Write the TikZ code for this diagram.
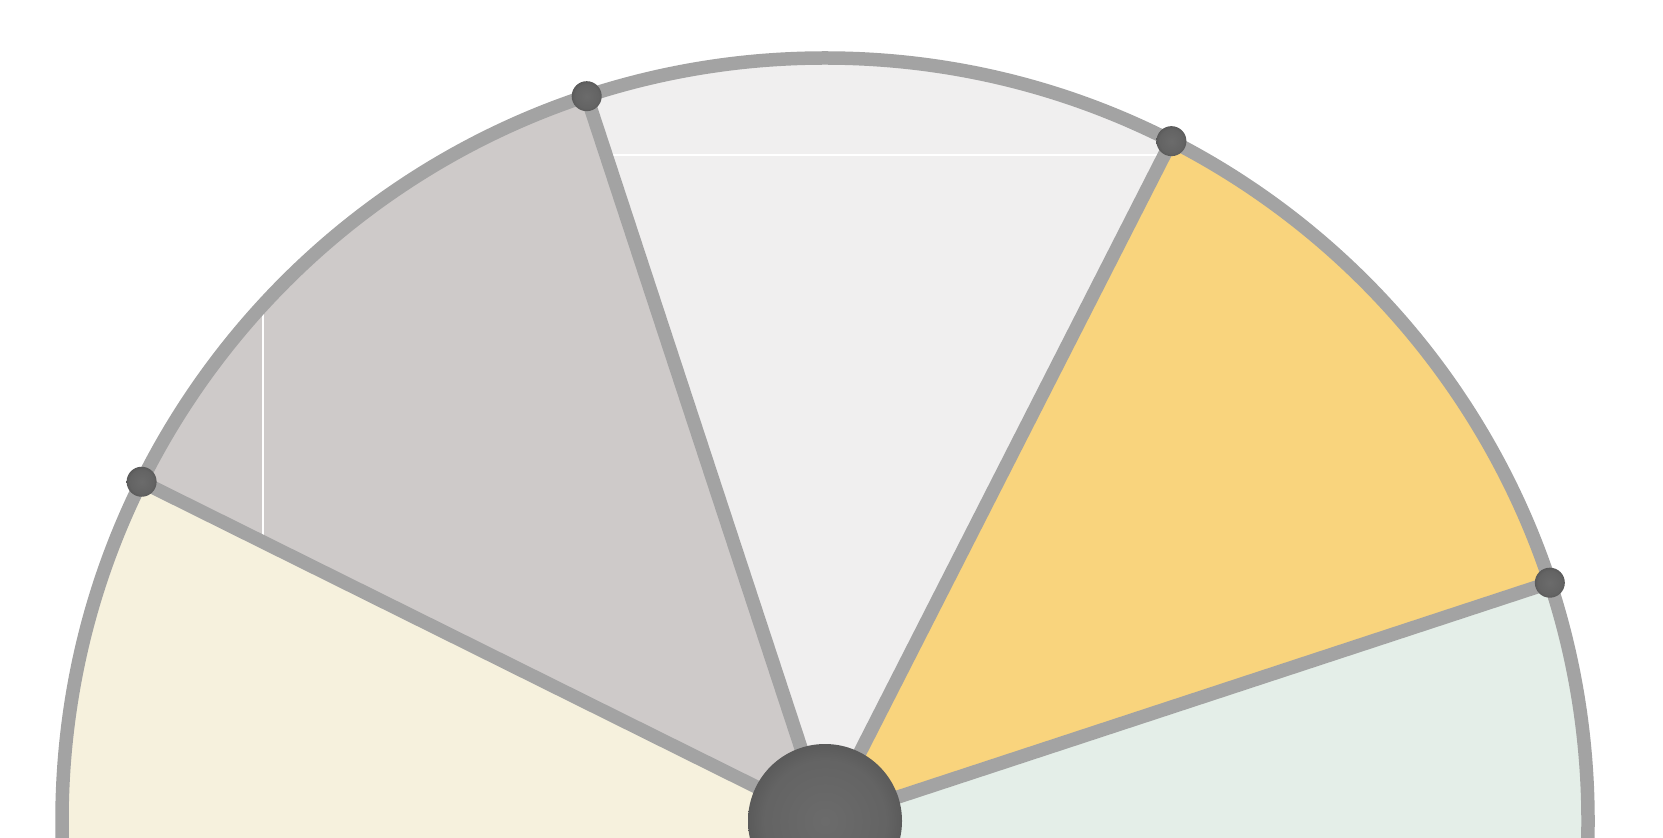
\documentclass[tikz,border=0pt]{standalone}
\definecolor{rimgray}{HTML}{A3A3A3}
\definecolor{creamfill}{HTML}{F6F1DD}
\definecolor{stonefill}{HTML}{CECAC9}
\definecolor{mistfill}{HTML}{F0EFEF}
\definecolor{honeyfill}{HTML}{F9D47D}
\definecolor{sagefill}{HTML}{E4EEE8}
\pgfdeclareradialshading{knobshade}{\pgfpoint{0bp}{0bp}}{%
    color(0bp)=(black!58); color(20bp)=(black!61);
    color(30bp)=(black!68); color(35bp)=(black!77); color(50bp)=(black!77)}
\tikzset{
    rim/.style={rimgray, line width=0.135cm},
    seam/.style={white, line width=0.6pt},
    knob/.style={shading=knobshade}
}
\begin{document}
\begin{tikzpicture}
    \useasboundingbox (0,0) rectangle (16.63,8.37);
    \clip (0,0) rectangle (16.63,8.37);
    \begin{scope}[shift={(8.25,0.16)}]
        \coordinate (hub) at (0,0);
        \coordinate (a) at (18.2:7.63);
        \coordinate (b) at (63:7.63);
        \coordinate (c) at (108.2:7.63);
        \coordinate (d) at (153.6:7.63);

        % Sectors
        \fill[sagefill] (hub) -- (-40:7.63) arc (-40:18.2:7.63) -- cycle;
        \fill[honeyfill] (hub) -- (a) arc (18.2:63:7.63) -- cycle;
        \fill[mistfill] (hub) -- (b) arc (63:108.2:7.63) -- cycle;
        \fill[stonefill] (hub) -- (c) arc (108.2:153.6:7.63) -- cycle;
        \fill[creamfill] (hub) -- (d) arc (153.6:220:7.63) -- cycle;

        % Texture seams
        \begin{scope}
            \clip (hub) -- (b) arc (63:108.2:7.63) -- cycle;
            \draw[seam] (-4,6.66) -- (4,6.66);
        \end{scope}
        \begin{scope}
            \clip (hub) -- (c) arc (108.2:153.6:7.63) -- cycle;
            \draw[seam] (-5.62,1) -- (-5.62,8);
        \end{scope}

        % Rim and spokes
        \draw[rim] (hub) -- (a);
        \draw[rim] (hub) -- (b);
        \draw[rim] (hub) -- (c);
        \draw[rim] (hub) -- (d);
        \draw[rim] (hub) circle (7.63);

        % Pins
        \shade[knob] (a) circle (0.15);
        \shade[knob] (b) circle (0.15);
        \shade[knob] (c) circle (0.15);
        \shade[knob] (d) circle (0.15);

        % Hub
        \shade[knob] (hub) circle (0.77);
    \end{scope}
\end{tikzpicture}
\end{document}
